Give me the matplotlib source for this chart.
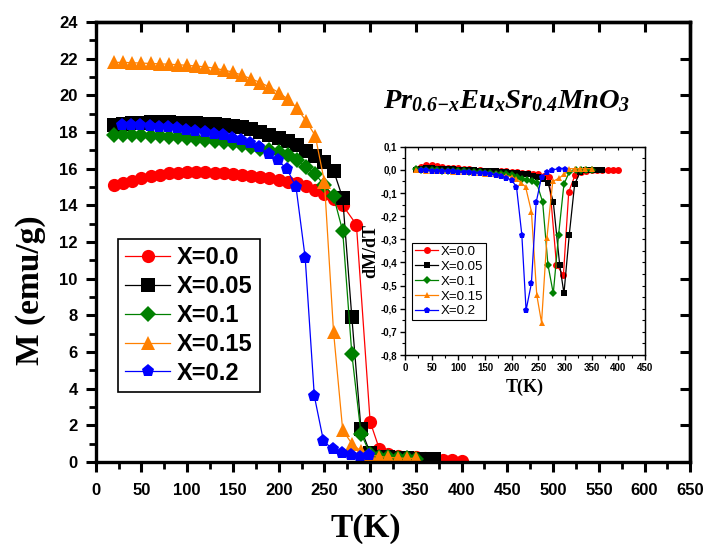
import matplotlib
matplotlib.use("Agg")
import matplotlib.pyplot as plt
from matplotlib.ticker import MultipleLocator, FixedLocator, NullLocator

plt.rcParams['font.family'] = ['Liberation Sans', 'DejaVu Sans']
plt.rcParams['mathtext.fontset'] = 'custom'
plt.rcParams['mathtext.it'] = 'Liberation Serif:italic:bold'
plt.rcParams['mathtext.rm'] = 'Liberation Serif:italic:bold'
plt.rcParams['mathtext.bf'] = 'Liberation Serif:italic:bold'

# ---------------- main plot data: M(T) ----------------
labels = ["X=0.0", "X=0.05", "X=0.1", "X=0.15", "X=0.2"]
colors = ["#ff0000", "#000000", "#008000", "#ff8000", "#0000ff"]
markers = ["o", "s", "D", "^", "p"]

T_00 = [20, 30, 40, 50, 60, 70, 80, 90, 100, 110, 120, 130, 140, 150, 160, 170, 180,
        190, 200, 210, 220, 230, 240, 250, 260, 270, 285, 300, 310, 320, 330, 340, 350,
        360, 370, 380, 390, 400]
M_00 = [15.12, 15.2, 15.35, 15.5, 15.6, 15.68, 15.74, 15.78, 15.8, 15.8, 15.8, 15.78,
        15.75, 15.7, 15.65, 15.6, 15.55, 15.48, 15.4, 15.3, 15.2, 15.05, 14.85, 14.6,
        14.35, 14.0, 12.95, 2.2, 0.72, 0.45, 0.35, 0.3, 0.25, 0.2, 0.15, 0.12, 0.1, 0.08]

T_005 = [20, 30, 40, 50, 60, 70, 80, 90, 100, 110, 120, 130, 140, 150, 160, 170, 180,
         190, 200, 210, 220, 230, 240, 250, 260, 270, 280, 290, 300, 310, 320, 330, 340,
         350, 360, 370]
M_005 = [18.4, 18.45, 18.5, 18.5, 18.52, 18.52, 18.52, 18.5, 18.5, 18.48, 18.45, 18.42,
         18.38, 18.32, 18.25, 18.15, 18.0, 17.85, 17.66, 17.5, 17.3, 16.95, 16.7, 16.35,
         15.9, 14.4, 7.9, 1.8, 0.5, 0.3, 0.25, 0.2, 0.2, 0.18, 0.15, 0.15]

T_01 = [20, 30, 40, 50, 60, 70, 80, 90, 100, 110, 120, 130, 140, 150, 160, 170, 180,
        190, 200, 210, 220, 230, 240, 250, 260, 270, 280, 290, 300, 310, 320, 330, 340, 350]
M_01 = [17.85, 17.85, 17.85, 17.82, 17.8, 17.78, 17.75, 17.72, 17.68, 17.63, 17.58,
        17.52, 17.45, 17.38, 17.3, 17.2, 17.1, 17.0, 16.9, 16.75, 16.5, 16.1, 15.7, 15.1,
        14.5, 12.6, 5.9, 1.55, 0.45, 0.3, 0.25, 0.2, 0.2, 0.18]

T_015 = [20, 30, 40, 50, 60, 70, 80, 90, 100, 110, 120, 130, 140, 150, 160, 170, 180,
         190, 200, 210, 220, 230, 240, 250, 260, 270, 280, 290, 300, 310, 320, 330, 340, 350]
M_015 = [21.8, 21.8, 21.78, 21.76, 21.74, 21.72, 21.7, 21.67, 21.64, 21.6, 21.55, 21.48,
         21.38, 21.27, 21.1, 20.9, 20.7, 20.45, 20.15, 19.8, 19.3, 18.6, 17.8, 15.3, 7.1,
         1.75, 1.0, 0.6, 0.4, 0.3, 0.25, 0.22, 0.2, 0.2]

T_02 = [29, 39, 49, 59, 69, 79, 89, 99, 109, 119, 129, 139, 149, 159, 169, 179, 189, 199,
        209, 219, 229, 239, 249, 259, 269, 279, 289, 299]
M_02 = [18.4, 18.4, 18.38, 18.35, 18.3, 18.25, 18.2, 18.12, 18.05, 17.98, 17.9, 17.82,
        17.7, 17.58, 17.42, 17.2, 16.8, 16.45, 16.0, 15.0, 11.15, 3.6, 1.15, 0.7, 0.5,
        0.38, 0.29, 0.38]

# ---------------- inset data: dM/dT ----------------
Ti_00 = [20, 30, 40, 50, 60, 70, 80, 90, 100, 110, 120, 130, 140, 150, 160, 170, 180,
         190, 200, 210, 220, 230, 240, 250, 260, 270, 284, 297, 307, 319, 330, 340, 350,
         360, 370, 380, 390, 400]
D_00 = [0.005, 0.012, 0.02, 0.021, 0.016, 0.012, 0.01, 0.008, 0.006, 0.004, 0.002, 0.0,
        -0.002, -0.003, -0.004, -0.005, -0.006, -0.007, -0.008, -0.01, -0.012, -0.014,
        -0.016, -0.02, -0.025, -0.03, -0.41, -0.455, -0.095, -0.022, -0.008, -0.004,
        -0.002, -0.001, 0.0, 0.0, 0.0, 0.0]

Ti_005 = [20, 30, 40, 50, 60, 70, 80, 90, 100, 110, 120, 130, 140, 150, 160, 170, 180,
          190, 200, 210, 220, 230, 240, 250, 258, 268, 278, 290, 298, 308, 318, 328, 340,
          350, 360, 370]
D_005 = [0.0, 0.004, 0.006, 0.006, 0.005, 0.004, 0.003, 0.002, 0.001, 0.0, -0.001,
         -0.002, -0.003, -0.004, -0.005, -0.006, -0.008, -0.01, -0.012, -0.014, -0.016,
         -0.02, -0.025, -0.03, -0.04, -0.055, -0.138, -0.41, -0.534, -0.28, -0.063, -0.01,
         0.0, 0.0, 0.0, 0.0]

Ti_01 = [20, 30, 40, 50, 60, 70, 80, 90, 100, 110, 120, 130, 140, 150, 160, 170, 180,
         190, 200, 210, 220, 228, 238, 247, 258, 268, 278, 288, 298, 308, 320, 330, 340, 350]
D_01 = [0.002, 0.001, 0.0, -0.001, -0.002, -0.003, -0.004, -0.005, -0.006, -0.007,
        -0.008, -0.009, -0.01, -0.012, -0.014, -0.016, -0.018, -0.02, -0.024, -0.03,
        -0.038, -0.045, -0.05, -0.058, -0.138, -0.41, -0.534, -0.28, -0.061, -0.01, 0.0,
        0.0, 0.0, 0.0]

Ti_015 = [20, 30, 40, 50, 60, 70, 80, 90, 100, 110, 120, 130, 140, 150, 160, 170, 180,
          190, 200, 208, 217, 226, 237, 247, 256, 266, 277, 288, 298, 308, 318, 328, 338, 350]
D_015 = [0.0, -0.002, -0.003, -0.004, -0.005, -0.006, -0.007, -0.008, -0.009, -0.01,
         -0.011, -0.012, -0.014, -0.016, -0.018, -0.02, -0.023, -0.026, -0.03, -0.04,
         -0.055, -0.073, -0.18, -0.54, -0.66, -0.296, -0.05, -0.037, -0.02, 0.005, 0.005,
         0.005, 0.005, 0.005]

Ti_02 = [30, 40, 50, 60, 70, 80, 90, 100, 110, 120, 130, 140, 150, 160, 170, 180, 190,
         200, 209, 219, 227, 237, 246, 256, 266, 276, 289, 300]
D_02 = [0.0, -0.002, -0.003, -0.004, -0.005, -0.006, -0.007, -0.008, -0.009, -0.01,
        -0.012, -0.013, -0.015, -0.018, -0.022, -0.026, -0.035, -0.045, -0.073, -0.28,
        -0.606, -0.49, -0.14, -0.03, -0.01, 0.0, 0.005, 0.005]

main_T = [T_00, T_005, T_01, T_015, T_02]
main_M = [M_00, M_005, M_01, M_015, M_02]
ins_T = [Ti_00, Ti_005, Ti_01, Ti_015, Ti_02]
ins_D = [D_00, D_005, D_01, D_015, D_02]

x_ticks = [0, 50, 100, 150, 200, 250, 300, 350, 400, 450, 500, 550, 600, 650]
y_ticks = [0, 2, 4, 6, 8, 10, 12, 14, 16, 18, 20, 22, 24]
ins_x_ticks = [0, 50, 100, 150, 200, 250, 300, 350, 400, 450]
ins_y_ticks = [0.1, 0.0, -0.1, -0.2, -0.3, -0.4, -0.5, -0.6, -0.7, -0.8]
ins_y_labels = ["0,1", "0,0", "-0,1", "-0,2", "-0,3", "-0,4", "-0,5", "-0,6", "-0,7", "-0,8"]

fig = plt.figure(figsize=(7.05, 5.44), dpi=100)
ax = fig.add_axes([0.1357, 0.1507, 0.8435, 0.8088])

for t, m, c, mk, lb in zip(main_T, main_M, colors, markers, labels):
    ms = 9.5 if mk != "D" else 8.5
    ax.plot(t, m, color=c, marker=mk, ms=ms, lw=0.9, label=lb, markeredgewidth=0)

ax.set_xlim(0, 650)
ax.set_ylim(0, 24)
ax.set_xticks(x_ticks)
ax.set_yticks(y_ticks)
ax.xaxis.set_minor_locator(MultipleLocator(25))
ax.yaxis.set_minor_locator(MultipleLocator(1))
for s in ax.spines.values():
    s.set_linewidth(2.4)
ax.tick_params(which="major", direction="out", length=7, width=2.2, labelsize=12)
ax.tick_params(which="minor", direction="out", length=5, width=2.0)
ax.tick_params(axis="x", which="major", pad=8)
ax.tick_params(axis="y", which="major", pad=6)
for lab in ax.get_xticklabels() + ax.get_yticklabels():
    lab.set_fontweight("bold")

top = ax.secondary_xaxis("top")
top.set_xticks(x_ticks)
top.xaxis.set_minor_locator(NullLocator())
top.tick_params(direction="in", length=7, width=2.2, labeltop=False)
top.spines["top"].set_linewidth(2.4)
right = ax.secondary_yaxis("right")
right.set_yticks(y_ticks)
right.yaxis.set_minor_locator(NullLocator())
right.tick_params(direction="in", length=7, width=2.2, labelright=False)
right.spines["right"].set_linewidth(2.4)

ax.set_xlabel("T(K)", fontsize=24, fontweight="bold", family="Liberation Serif")
ax.set_ylabel("M (emu/g)", fontsize=24, fontweight="bold", family="Liberation Serif")
ax.xaxis.set_label_coords(0.454, -0.115)
ax.yaxis.set_label_coords(-0.083, 0.39)

leg = ax.legend(loc="upper left", bbox_to_anchor=(118 / 705, 1 - 239 / 544),
                bbox_transform=fig.transFigure, fancybox=False, edgecolor="black",
                prop={"weight": "bold", "size": 17}, handlelength=1.9, labelspacing=0.25,
                borderpad=0.3, handletextpad=0.3, borderaxespad=0, framealpha=1)
leg.get_frame().set_linewidth(1.2)

fig.text(383 / 705, 1 - 108 / 544, r"$Pr_{0.6{-}x}Eu_{x}Sr_{0.4}MnO_{3}$", fontsize=20.5,
         va="baseline", ha="left")

# ---------------- inset ----------------
ins = fig.add_axes([0.5745, 0.3474, 0.3404, 0.3829])
for t, d, c, mk, lb in zip(ins_T, ins_D, colors, markers, labels):
    ms = 5 if mk != "D" else 4.5
    ins.plot(t, d, color=c, marker=mk, ms=ms, lw=0.9, label=lb, markeredgewidth=0)
ins.set_xlim(0, 450)
ins.set_ylim(-0.8, 0.1)
ins.set_xticks(ins_x_ticks)
ins.yaxis.set_major_locator(FixedLocator(ins_y_ticks))
ins.set_yticklabels(ins_y_labels)
ins.xaxis.set_minor_locator(MultipleLocator(25))
ins.yaxis.set_minor_locator(MultipleLocator(0.05))
for s in ins.spines.values():
    s.set_linewidth(1.0)
ins.tick_params(which="major", direction="out", length=3.5, width=1.0, labelsize=7, pad=2)
ins.tick_params(which="minor", direction="out", length=2, width=0.8)
for lab in ins.get_xticklabels() + ins.get_yticklabels():
    lab.set_fontweight("bold")
itop = ins.secondary_xaxis("top")
itop.set_xticks(ins_x_ticks)
itop.xaxis.set_minor_locator(MultipleLocator(25))
itop.tick_params(which="both", direction="in", length=2.5, width=0.8, labeltop=False)
iright = ins.secondary_yaxis("right")
iright.yaxis.set_major_locator(FixedLocator(ins_y_ticks))
iright.yaxis.set_minor_locator(MultipleLocator(0.05))
iright.tick_params(which="both", direction="in", length=2.5, width=0.8, labelright=False)

ins.set_xlabel("T(K)", fontsize=13, fontweight="bold", family="Liberation Serif", labelpad=4)
ins.set_ylabel("dM/dT", fontsize=13, fontweight="bold", family="Liberation Serif", labelpad=1)

ileg = ins.legend(loc="upper left", bbox_to_anchor=(412 / 705, 1 - 243 / 544),
                  bbox_transform=fig.transFigure, fancybox=False, edgecolor="black",
                  prop={"size": 9.5}, handlelength=1.8, labelspacing=0.2, borderpad=0.2,
                  handletextpad=0.2, borderaxespad=0, framealpha=1)
ileg.get_frame().set_linewidth(0.8)

fig.savefig("out.png", dpi=100)
